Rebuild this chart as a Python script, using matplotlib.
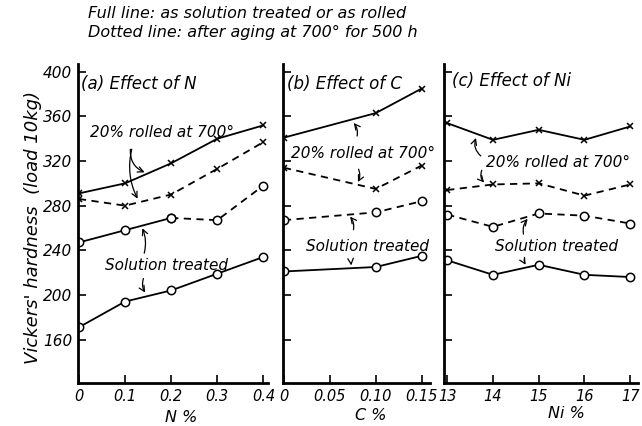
import matplotlib
matplotlib.use('Agg')
import matplotlib.pyplot as plt

plt.rcParams['font.family'] = ['DejaVu Sans']
plt.rcParams['font.style'] = 'italic'

# (a) effect of N
n_pct = [0, 0.1, 0.2, 0.3, 0.4]
n_rolled = [291, 300, 318, 340, 352]
n_rolled_aged = [286, 280, 290, 313, 337]
n_sol = [171, 194, 204, 219, 234]
n_sol_aged = [247, 258, 269, 267, 298]

# (b) effect of C
c_pct = [0, 0.10, 0.15]
c_rolled = [341, 363, 385]
c_rolled_aged = [314, 295, 316]
c_sol = [221, 225, 235]
c_sol_aged = [267, 274, 284]

# (c) effect of Ni
ni_pct = [13, 14, 15, 16, 17]
ni_rolled = [354, 339, 348, 339, 351]
ni_rolled_aged = [294, 299, 300, 289, 299]
ni_sol = [231, 218, 227, 218, 216]
ni_sol_aged = [272, 261, 273, 271, 264]

n_ticks = ['0', '0.1', '0.2', '0.3', '0.4']
c_ticks = ['0', '0.05', '0.10', '0.15']
ni_ticks = ['13', '14', '15', '16', '17']
y_ticks = [160, 200, 240, 280, 320, 360, 400]

W, H = 642, 426
fig = plt.figure(figsize=(W / 100, H / 100), dpi=100)
bot = 1 - 383 / H
hgt = (383 - 64) / H
ax_a = fig.add_axes([78 / W, bot, 190 / W, hgt])
ax_b = fig.add_axes([283 / W, bot, 147 / W, hgt])
ax_c = fig.add_axes([444 / W, bot, 194 / W, hgt])

lw = 1.3
mk = dict(color='black', lw=lw)
xm = dict(marker='x', ms=5, mew=1.1)
om = dict(marker='o', ms=6, mfc='white', mew=1.1)


def style(ax, xlim, xt, xtl, show_y):
    ax.set_xlim(*xlim)
    ax.set_ylim(121, 407)
    for s in ['top', 'right']:
        ax.spines[s].set_visible(False)
    for s in ['left', 'bottom']:
        ax.spines[s].set_linewidth(2)
    ax.set_xticks(xt)
    ax.set_xticklabels(xtl, fontsize=10.5)
    ax.set_yticks(y_ticks)
    if show_y:
        ax.set_yticklabels([str(v) for v in y_ticks], fontsize=11)
    else:
        ax.set_yticklabels([])
    ax.tick_params(direction='in', length=6, width=1.2, pad=4)
    ax.patch.set_alpha(0)


def arrow(ax, start, end, rad=0.3):
    ax.annotate('', xy=end, xytext=start,
                arrowprops=dict(arrowstyle='->', lw=0.9, color='black',
                                connectionstyle='arc3,rad=%s' % rad))


# panel (a)
ax_a.plot(n_pct, n_rolled, ls='-', **mk, **xm)
ax_a.plot(n_pct, n_rolled_aged, ls='--', dashes=(4, 3), **mk, **xm)
ax_a.plot(n_pct[:3], n_sol_aged[:3], ls='-', **mk, **om)
ax_a.plot(n_pct[2:], n_sol_aged[2:], ls='--', dashes=(4, 3), **mk, **om)
ax_a.plot(n_pct, n_sol, ls='-', **mk, **om)
style(ax_a, (-0.002, 0.41), n_pct, n_ticks, True)
ax_a.text(0.004, 389, '(a) Effect of N', fontsize=12, ha='left', va='center')
ax_a.text(0.18, 346, '20% rolled at 700°', fontsize=11, ha='center', va='center')
arrow(ax_a, (0.112, 333), (0.148, 309), 0.4)
arrow(ax_a, (0.116, 333), (0.13, 284), 0.2)
ax_a.text(0.19, 226, 'Solution treated', fontsize=11, ha='center', va='center')
arrow(ax_a, (0.14, 235), (0.135, 262), 0.2)
arrow(ax_a, (0.142, 217), (0.147, 200), 0.3)

# panel (b)
ax_b.plot(c_pct, c_rolled, ls='-', **mk, **xm)
ax_b.plot(c_pct, c_rolled_aged, ls='--', dashes=(4, 3), **mk, **xm)
ax_b.plot(c_pct, c_sol_aged, ls='--', dashes=(4, 3), **mk, **om)
ax_b.plot(c_pct, c_sol, ls='-', **mk, **om)
style(ax_b, (-0.001, 0.159), [0, 0.05, 0.10, 0.15], c_ticks, False)
ax_b.text(0.003, 389, '(b) Effect of C', fontsize=12, ha='left', va='center')
ax_b.text(0.086, 327, '20% rolled at 700°', fontsize=11, ha='center', va='center')
arrow(ax_b, (0.079, 340), (0.074, 356), 0.3)
arrow(ax_b, (0.080, 315), (0.079, 299), -0.3)
ax_b.text(0.091, 243, 'Solution treated', fontsize=11, ha='center', va='center')
arrow(ax_b, (0.075, 256), (0.070, 272), 0.3)
arrow(ax_b, (0.075, 231), (0.074, 224), 0.3)

# panel (c)
ax_c.plot(ni_pct, ni_rolled, ls='-', **mk, **xm)
ax_c.plot(ni_pct, ni_rolled_aged, ls='--', dashes=(4, 3), **mk, **xm)
ax_c.plot(ni_pct, ni_sol_aged, ls='--', dashes=(4, 3), **mk, **om)
ax_c.plot(ni_pct, ni_sol, ls='-', **mk, **om)
style(ax_c, (12.93, 17.17), ni_pct, ni_ticks, False)
ax_c.text(13.11, 392, '(c) Effect of Ni', fontsize=12, ha='left', va='center')
ax_c.text(15.43, 319, '20% rolled at 700°', fontsize=11, ha='center', va='center')
arrow(ax_c, (13.78, 323), (13.65, 343), -0.4)
arrow(ax_c, (13.78, 314), (13.85, 299), 0.4)
ax_c.text(15.38, 243, 'Solution treated', fontsize=11, ha='center', va='center')
arrow(ax_c, (14.68, 252), (14.8, 270), -0.3)
arrow(ax_c, (14.70, 235), (14.75, 225), 0.3)

# axis titles
fig.text(33 / W, 1 - 227 / H, "Vickers' hardness  (load 10kg)", rotation=90,
         fontsize=13, ha='center', va='center')
fig.text(181 / W, 1 - 417 / H, 'N %', fontsize=11.5, ha='center', va='center')
fig.text(371 / W, 1 - 416 / H, 'C %', fontsize=11.5, ha='center', va='center')
fig.text(566 / W, 1 - 414 / H, 'Ni %', fontsize=11.5, ha='center', va='center')

# header
fig.text(88 / W, 1 - 13 / H, 'Full line: as solution treated or as rolled',
         fontsize=11.5, ha='left', va='center')
fig.text(88 / W, 1 - 32 / H, 'Dotted line: after aging at 700° for 500 h',
         fontsize=11.5, ha='left', va='center')

fig.savefig('out.png', dpi=100, facecolor='white')
